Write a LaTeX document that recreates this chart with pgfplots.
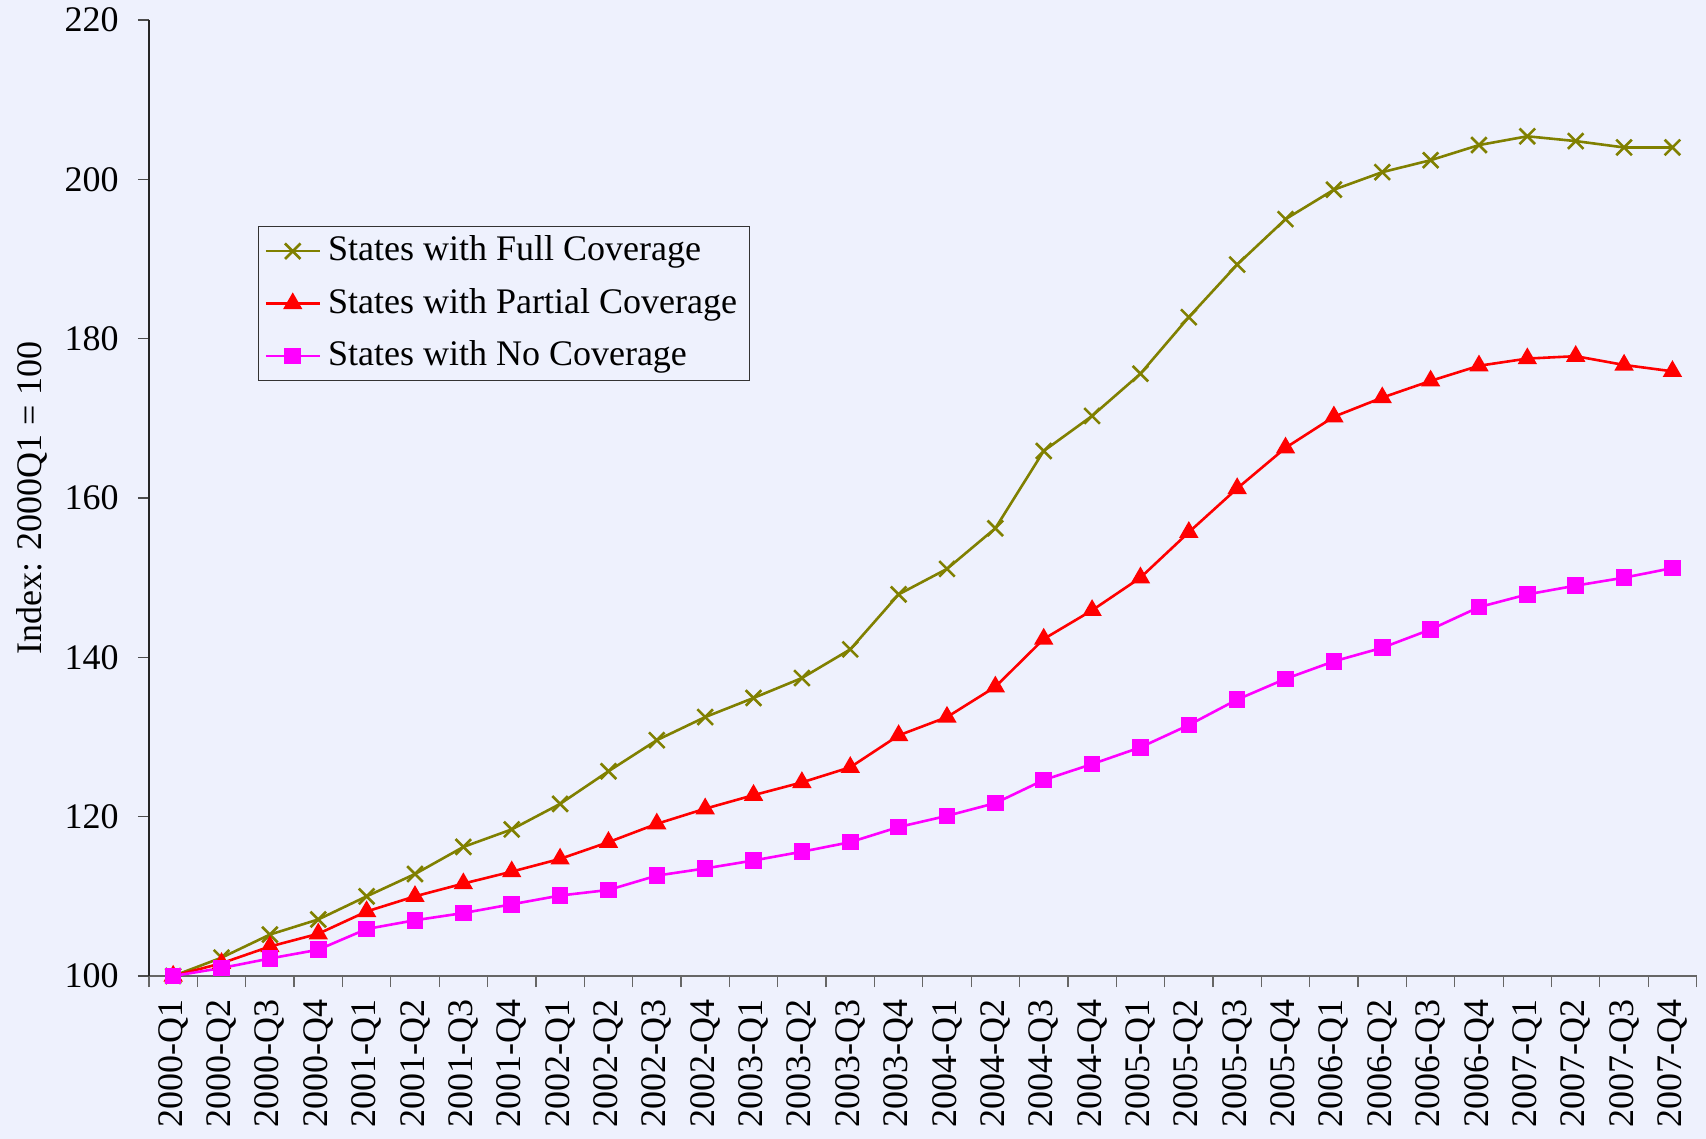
\documentclass[border=0pt]{standalone}
\usepackage{fontspec}
\setmainfont{Liberation Serif}
\usepackage{pgfplots}
\pgfplotsset{compat=1.18}
\definecolor{bg}{HTML}{EEF1FD}
\definecolor{olivec}{HTML}{808000}
\definecolor{magc}{HTML}{FF00FF}
\definecolor{redc}{HTML}{FF0000}
\begin{document}
\fontsize{18}{21.6}\selectfont
\begin{tikzpicture}
\path[use as bounding box, fill=bg] (-74.5pt,-81.5pt) rectangle (778.5pt,488pt);
\begin{axis}[
  at={(0,0)}, anchor=south west,
  scale only axis, width=773.8pt, height=478pt,
  xmin=-0.5, xmax=31.5, ymin=100, ymax=220,
  axis x line*=bottom, axis y line*=left,
  x axis line style={draw=black!60, line width=0.6pt, -},
  y axis line style={draw=black!85, line width=0.6pt, -},
  ytick={100,120,...,220},
  tick align=outside,
  major tick length=5.5pt, minor tick length=5.5pt,
  y tick style={draw=black!70, line width=0.6pt},
  xtick={0,...,31},
  major x tick style={draw=none},
  minor xtick={-0.5,0.5,...,31.5},
  minor x tick style={draw=black!60, line width=0.6pt},
  xticklabels={2000-Q1,2000-Q2,2000-Q3,2000-Q4,2001-Q1,2001-Q2,2001-Q3,2001-Q4,2002-Q1,2002-Q2,2002-Q3,2002-Q4,2003-Q1,2003-Q2,2003-Q3,2003-Q4,2004-Q1,2004-Q2,2004-Q3,2004-Q4,2005-Q1,2005-Q2,2005-Q3,2005-Q4,2006-Q1,2006-Q2,2006-Q3,2006-Q4,2007-Q1,2007-Q2,2007-Q3,2007-Q4},
  xticklabel style={rotate=90, anchor=east, font=\fontsize{18}{21.6}\selectfont},
  yticklabel style={xshift=-3.5pt, font=\fontsize{18}{21.6}\selectfont},
  /pgf/number format/assume math mode=true,
  ylabel={Index: 2000Q1 = 100},
  ylabel style={at={(axis description cs:-0.0756,0.5)}, anchor=center, rotate=0, font=\fontsize{18}{21.6}\selectfont},
  legend style={at={(axis description cs:0.0704,0.784)}, anchor=north west,
    draw=black!80, fill=none, line width=0.5pt,
    font=\fontsize{18}{21.6}\selectfont,
    inner xsep=3pt, inner ysep=1pt, row sep=4pt,
    nodes={inner sep=3.5pt}},
  legend cell align=left,
  legend image code/.code={\draw[mark repeat=2,mark phase=2] plot coordinates {(0pt,0pt)(13.5pt,0pt)(27pt,0pt)};},
]
\addplot[olivec, line width=1.3pt, mark=x, mark size=5.5pt, mark options={line width=1.3pt}] coordinates {
(0,100)(1,102.3)(2,105.2)(3,107.1)(4,110.0)(5,112.8)(6,116.2)(7,118.4)
(8,121.6)(9,125.7)(10,129.6)(11,132.5)(12,134.9)(13,137.4)(14,141.0)(15,147.9)
(16,151.1)(17,156.2)(18,165.9)(19,170.3)(20,175.6)(21,182.7)(22,189.3)(23,195.0)
(24,198.7)(25,200.9)(26,202.4)(27,204.3)(28,205.4)(29,204.8)(30,204.0)(31,204.0)};
\addlegendentry{States with Full Coverage}
\addplot[redc, line width=1.3pt, mark=triangle*, mark size=4.3pt, mark options={solid}] coordinates {
(0,100)(1,101.6)(2,103.7)(3,105.3)(4,108.1)(5,110.0)(6,111.6)(7,113.1)
(8,114.7)(9,116.8)(10,119.1)(11,121.0)(12,122.7)(13,124.3)(14,126.2)(15,130.2)
(16,132.5)(17,136.3)(18,142.3)(19,145.9)(20,150.0)(21,155.7)(22,161.2)(23,166.3)
(24,170.2)(25,172.6)(26,174.7)(27,176.6)(28,177.5)(29,177.8)(30,176.7)(31,175.9)};
\addlegendentry{States with Partial Coverage}
\addplot[magc, line width=1.3pt, mark=square*, mark size=3.5pt] coordinates {
(0,100)(1,101.0)(2,102.2)(3,103.3)(4,105.9)(5,107.0)(6,107.9)(7,109.0)
(8,110.1)(9,110.8)(10,112.6)(11,113.5)(12,114.5)(13,115.6)(14,116.8)(15,118.7)
(16,120.1)(17,121.7)(18,124.6)(19,126.6)(20,128.7)(21,131.5)(22,134.7)(23,137.3)
(24,139.5)(25,141.2)(26,143.5)(27,146.3)(28,147.9)(29,149.0)(30,150.0)(31,151.2)};
\addlegendentry{States with No Coverage}
\end{axis}
\end{tikzpicture}
\end{document}
